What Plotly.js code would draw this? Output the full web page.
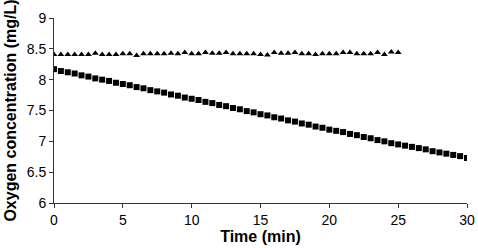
<!DOCTYPE html>
<html>
<head>
<meta charset="utf-8">
<script src="https://cdn.plot.ly/plotly-3.0.1.min.js"></script>
<style>html,body{margin:0;padding:0;background:#fff;}#chart{width:478px;height:248px;}</style>
</head>
<body>
<div id="chart"></div>
<script>
// Time (min) for the square series (0 to 30, every 0.5 min)
var timeSquares = [0,0.5,1,1.5,2,2.5,3,3.5,4,4.5,5,5.5,6,6.5,7,7.5,8,8.5,9,9.5,10,10.5,11,11.5,12,12.5,13,13.5,14,14.5,15,15.5,16,16.5,17,17.5,18,18.5,19,19.5,20,20.5,21,21.5,22,22.5,23,23.5,24,24.5,25,25.5,26,26.5,27,27.5,28,28.5,29,29.5,30];
var oxygenSquares = [8.17,8.14,8.12,8.10,8.07,8.05,8.02,8.00,7.98,7.95,7.93,7.91,7.88,7.86,7.83,7.81,7.79,7.76,7.74,7.71,7.69,7.67,7.64,7.62,7.59,7.57,7.54,7.52,7.49,7.47,7.44,7.42,7.39,7.37,7.34,7.32,7.29,7.27,7.24,7.22,7.19,7.17,7.15,7.12,7.10,7.07,7.05,7.02,7.00,6.97,6.95,6.93,6.91,6.89,6.87,6.84,6.82,6.80,6.78,6.76,6.73];
// Time (min) for the triangle series (0 to 25, every 0.5 min)
var timeTriangles = [0,0.5,1,1.5,2,2.5,3,3.5,4,4.5,5,5.5,6,6.5,7,7.5,8,8.5,9,9.5,10,10.5,11,11.5,12,12.5,13,13.5,14,14.5,15,15.5,16,16.5,17,17.5,18,18.5,19,19.5,20,20.5,21,21.5,22,22.5,23,23.5,24,24.5,25];
var oxygenTriangles = [8.41,8.41,8.41,8.41,8.41,8.41,8.43,8.41,8.41,8.41,8.42,8.42,8.39,8.42,8.42,8.42,8.42,8.43,8.42,8.44,8.42,8.42,8.44,8.43,8.43,8.44,8.42,8.42,8.42,8.42,8.41,8.40,8.44,8.43,8.43,8.44,8.42,8.42,8.41,8.42,8.42,8.42,8.44,8.44,8.42,8.42,8.42,8.44,8.41,8.45,8.44];
var xTicks = [0,5,10,15,20,25,30];
var yTicks = [6,6.5,7,7.5,8,8.5,9];

var font = 'Arial, "Liberation Sans", Helvetica, sans-serif';
var traces = [
  {x: timeTriangles, y: oxygenTriangles, type: 'scatter', mode: 'markers',
   marker: {symbol: 'triangle-up', size: 6, color: '#000'}, hoverinfo: 'none'},
  {x: timeSquares, y: oxygenSquares, type: 'scatter', mode: 'markers',
   marker: {symbol: 'square', size: 6, color: '#000'}, hoverinfo: 'none'}
];
var layout = {
  width: 478, height: 248,
  margin: {l: 54, r: 11, t: 18, b: 45},
  showlegend: false,
  paper_bgcolor: '#fff', plot_bgcolor: '#fff',
  font: {family: font, size: 14, color: '#000'},
  xaxis: {
    range: [0, 30], tickvals: xTicks, ticktext: xTicks.map(String),
    showgrid: false, zeroline: false, showline: true, linecolor: '#333', linewidth: 1,
    ticks: 'outside', ticklen: 4, tickcolor: '#333',
    tickfont: {family: font, size: 14, color: '#000'},
    title: {text: '<b>Time (min)</b>', font: {family: font, size: 16, color: '#000'}, standoff: 4}
  },
  yaxis: {
    range: [6, 9], tickvals: yTicks, ticktext: yTicks.map(String),
    showgrid: false, zeroline: false, showline: true, linecolor: '#333', linewidth: 1,
    ticks: 'outside', ticklen: 4, tickcolor: '#333',
    tickfont: {family: font, size: 14, color: '#000'},
    title: {text: '<b>Oxygen concentration (mg/L)</b>', font: {family: font, size: 16, color: '#000'}, standoff: 6}
  }
};
Plotly.newPlot('chart', traces, layout, {staticPlot: true, displayModeBar: false});
</script>
</body>
</html>
